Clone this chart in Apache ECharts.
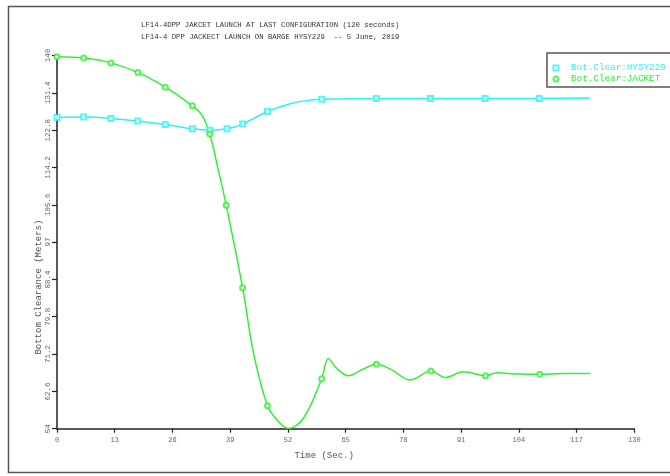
<!DOCTYPE html>
<html>
<head>
<meta charset="utf-8">
<script src="https://cdn.jsdelivr.net/npm/echarts@6/dist/echarts.min.js"></script>
<style>html,body{margin:0;padding:0;background:#fff;}#c{width:670px;height:476px;}</style>
</head>
<body>
<div id="c"></div>
<script>
const titleLines = ['LF14-4DPP JAKCET LAUNCH AT LAST CONFIGURATION (120 seconds)', 'LF14-4 DPP JACKECT LAUNCH ON BARGE HYSY229  -- 5 June, 2019'];
const seriesNames = ['Bot.Clear:HYSY229', 'Bot.Clear:JACKET'];
const xTicks = [0, 13, 26, 39, 52, 65, 78, 91, 104, 117, 130];
const yTicks = [54, 62.6, 71.2, 79.8, 88.4, 97, 105.6, 114.2, 122.8, 131.4, 140];

// Barge (HYSY229) curve
const bargeTimes = [0, 6.0, 12.15, 18.2, 24.4, 30.5, 34.4, 38.3, 41.8, 47.4, 52.5, 56.0, 59.6, 71.9, 84.1, 96.4, 108.6, 120];
const bargeValues = [125.7, 125.8, 125.5, 124.9, 124.1, 123.1, 122.8, 123.1, 124.2, 127.1, 128.9, 129.6, 129.9, 130.1, 130.1, 130.1, 130.1, 130.2];
const bargeMarkTimes = [0, 6.0, 12.15, 18.2, 24.4, 30.5, 34.4, 38.3, 41.8, 47.4, 59.6, 71.9, 84.1, 96.4, 108.6];
const bargeMarkValues = [125.7, 125.8, 125.5, 124.9, 124.1, 123.1, 122.8, 123.1, 124.2, 127.1, 129.9, 130.1, 130.1, 130.1, 130.1];

// Jacket curve
const jacketTimes = [0, 6.0, 12.15, 18.2, 24.4, 30.5, 32.6, 34.4, 36.3, 38.1, 41.8, 44.25, 47.4, 49.9, 52.1, 55.5, 59.6, 61.1, 63.0, 65.6, 68.5, 71.9, 75.5, 79.5, 84.2, 87.4, 91.5, 96.5, 99.0, 104, 108.7, 114, 120];
const jacketValues = [139.7, 139.4, 138.3, 136.1, 132.7, 128.4, 126.3, 121.9, 113.7, 105.5, 86.5, 71.4, 59.3, 55.6, 54.05, 56.4, 65.5, 70.2, 67.9, 66.2, 67.5, 68.85, 67.5, 65.2, 67.3, 65.8, 67.1, 66.2, 66.9, 66.6, 66.55, 66.7, 66.7];
const jacketMarkTimes = [0, 6.0, 12.15, 18.2, 24.4, 30.5, 34.4, 38.1, 41.8, 47.4, 59.6, 71.9, 84.2, 96.5, 108.7];
const jacketMarkValues = [139.7, 139.4, 138.3, 136.1, 132.7, 128.4, 121.9, 105.5, 86.5, 59.3, 65.5, 68.85, 67.3, 66.2, 66.55];

const CYAN = '#30f2f2';
const GREEN = '#33ee33';
const MONO = '"Liberation Mono", "DejaVu Sans Mono", monospace';

const zip = (a, b) => a.map((t, i) => [t, b[i]]);

const chart = echarts.init(document.getElementById('c'), null, {renderer: 'canvas'});
chart.setOption({
  animation: false,
  backgroundColor: '#fff',
  title: {
    text: titleLines.join('\n'),
    left: 136,
    top: 14,
    textStyle: {fontFamily: MONO, fontSize: 7.3, fontWeight: 'normal', color: '#333', lineHeight: 12}
  },
  graphic: [{
    type: 'rect', silent: true, z: -1,
    shape: {x: 8.5, y: 6.5, width: 700, height: 466},
    style: {fill: 'none', stroke: '#555', lineWidth: 1.5}
  }],
  legend: {
    orient: 'vertical',
    left: 547, top: 53,
    padding: [10, 20, 3, 5.5],
    itemGap: 1,
    itemWidth: 5, itemHeight: 5,
    borderColor: '#555', borderWidth: 1.5,
    textStyle: {fontFamily: MONO, fontSize: 9.3, padding: [0, 0, 0, 7.5], lineHeight: 10},
    data: [
      {name: seriesNames[0], textStyle: {color: CYAN}},
      {name: seriesNames[1], textStyle: {color: GREEN}}
    ]
  },
  grid: {left: 57, right: 35.7, top: 55.5, bottom: 47.3, containLabel: false},
  xAxis: {
    type: 'value', min: 0, max: 130, interval: 13,
    name: 'Time (Sec.)', nameLocation: 'middle', nameGap: 22, nameMoveOverlap: false,
    nameTextStyle: {fontFamily: MONO, fontSize: 9, color: '#555', padding: [0, 43, 0, 0]},
    axisLine: {lineStyle: {color: '#222', width: 1.5}},
    axisTick: {lineStyle: {color: '#222', width: 1.2}, length: 4},
    axisLabel: {fontFamily: MONO, fontSize: 7, color: '#666', margin: 8, formatter: v => xTicks.includes(v) ? String(v) : ''},
    splitLine: {show: false}
  },
  yAxis: {
    type: 'value', min: 54, max: 140,
    name: 'Bottom Clearance (Meters)', nameLocation: 'middle', nameGap: 14, nameRotate: 90, nameMoveOverlap: false,
    nameTextStyle: {fontFamily: MONO, fontSize: 9, color: '#555', padding: [0, 90, 0, 0]},
    axisLine: {show: true, lineStyle: {color: '#222', width: 1.5}},
    axisTick: {show: true, customValues: yTicks, lineStyle: {color: '#222', width: 1.2}, length: 5},
    axisLabel: {customValues: yTicks, rotate: 90, fontFamily: MONO, fontSize: 7.5, color: '#666', margin: 5, formatter: v => String(Math.round(v * 10) / 10)},
    splitLine: {show: false}
  },
  series: [
    {name: 'bargeLine', type: 'line', data: zip(bargeTimes, bargeValues), smooth: 0.35, showSymbol: false, clip: false,
     lineStyle: {color: CYAN, width: 1.5}, itemStyle: {color: CYAN}, z: 2},
    {name: 'jacketLine', type: 'line', data: zip(jacketTimes, jacketValues), smooth: 0.35, showSymbol: false, clip: false,
     lineStyle: {color: GREEN, width: 1.5}, itemStyle: {color: GREEN}, z: 3},
    {name: seriesNames[0], type: 'scatter', data: zip(bargeMarkTimes, bargeMarkValues), symbol: 'emptyRect', symbolSize: 5, clip: false,
     itemStyle: {color: CYAN, borderColor: CYAN, borderWidth: 1.2}, z: 4},
    {name: seriesNames[1], type: 'scatter', data: zip(jacketMarkTimes, jacketMarkValues), symbol: 'emptyCircle', symbolSize: 5, clip: false,
     itemStyle: {color: GREEN, borderColor: GREEN, borderWidth: 1.2}, z: 5}
  ]
});
</script>
</body>
</html>
